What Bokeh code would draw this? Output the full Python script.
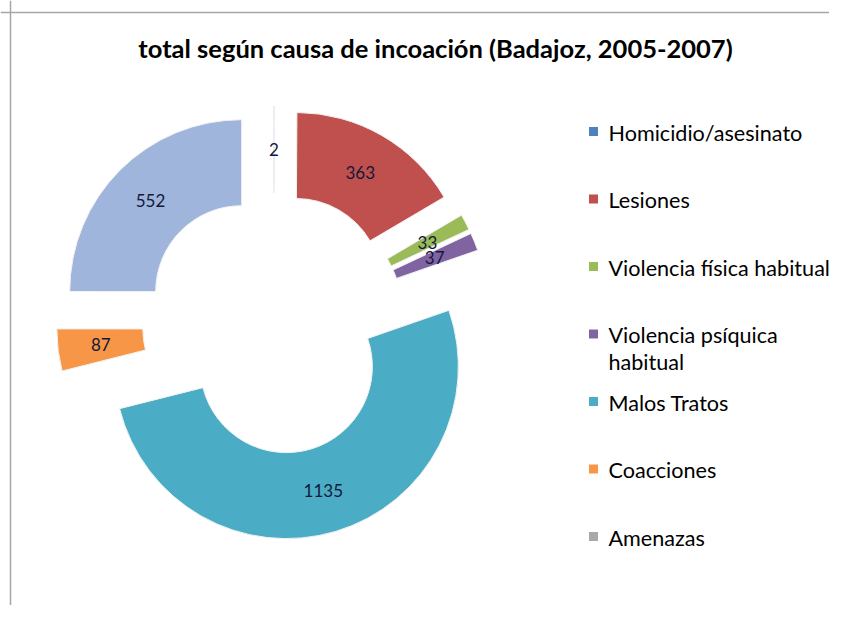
import math
from bokeh.plotting import figure
from bokeh.models import Range1d, ColumnDataSource, Span
from bokeh.embed import file_html
from bokeh.resources import INLINE
from bokeh.core.properties import value

# ---- data ----
title_text = "total según causa de incoación (Badajoz, 2005-2007)"
categories = ["Homicidio/asesinato", "Lesiones", "Violencia física habitual",
              "Violencia psíquica habitual", "Malos Tratos", "Coacciones", "Amenazas"]
legend_lines = [["Homicidio/asesinato"], ["Lesiones"], ["Violencia física habitual"],
                ["Violencia psíquica", "habitual"], ["Malos Tratos"], ["Coacciones"], ["Amenazas"]]
counts = [2, 363, 33, 37, 1135, 87, 552]
slice_colors = ["#4F81BD", "#C0504D", "#9BBB59", "#8064A2", "#4BACC6", "#F79646", "#A0B5DC"]
legend_colors = ["#4F81BD", "#C0504D", "#9BBB59", "#8064A2", "#4BACC6", "#F79646", "#A8A8A8"]

# ---- layout (screen pixel coordinates; data y = -screen y) ----
W, H = 829, 605
cx, cy = 273, -323          # donut centre
r_out, r_in = 172, 86       # radii
explode = 45                # explosion distance
FONT = "Lato"

p = figure(width=W, height=H, x_range=Range1d(0, W), y_range=Range1d(-H, 0),
           output_backend="svg", toolbar_location=None, min_border=0)
p.axis.visible = False
p.grid.visible = False
p.outline_line_color = None
p.background_fill_color = "white"
p.border_fill_color = "white"

total = float(sum(counts))
xs, ys, starts, ends, lx, ly, labels = [], [], [], [], [], [], []
cum = 0.0
for c in counts:
    t1 = cum / total * 360.0
    cum += c
    t2 = cum / total * 360.0
    tm = math.radians((t1 + t2) / 2.0)
    x0 = cx + explode * math.sin(tm)
    y0 = cy + explode * math.cos(tm)
    xs.append(x0)
    ys.append(y0)
    starts.append(math.radians(90.0 - t2))
    ends.append(math.radians(90.0 - t1))
    rm = (r_out + r_in) / 2.0
    lx.append(x0 + rm * math.sin(tm))
    ly.append(y0 + rm * math.cos(tm))
    labels.append(str(c))

src = ColumnDataSource(dict(x=xs, y=ys, start=starts, end=ends, color=slice_colors,
                            lx=lx, ly=ly, label=labels))
p.annular_wedge(x="x", y="y", inner_radius=r_in, outer_radius=r_out,
                start_angle="start", end_angle="end", direction="anticlock",
                fill_color="color", line_color="#f2f2f2", line_width=1, source=src)
p.text(x="lx", y="ly", text="label", source=src, text_align="center",
       text_baseline="middle", text_font=value(FONT), text_font_size="17px",
       text_color="#12183a")

# ---- legend (manual, to match the reference) ----
leg_x, leg_y0, leg_step, line_step = 593, -132, 67.5, 27
mx, my, mc = [], [], []
tx, ty, tt = [], [], []
for i, (lines, col) in enumerate(zip(legend_lines, legend_colors)):
    yy = leg_y0 - i * leg_step
    mx.append(leg_x)
    my.append(yy + 1)
    mc.append(col)
    for j, ln in enumerate(lines):
        tx.append(leg_x + 15)
        ty.append(yy - j * line_step)
        tt.append(ln)
p.scatter(x=mx, y=my, marker="square", size=9, fill_color=mc, line_color=None)
p.text(x=tx, y=ty, text=tt, text_align="left", text_baseline="middle",
       text_font=value(FONT), text_font_size="21.6px", text_color="#000000")

# ---- title ----
p.text(x=[435], y=[-47], text=[title_text], text_align="center", text_baseline="middle",
       text_font=value(FONT), text_font_size="25.5px", text_font_style="bold",
       text_color="#000000")

# ---- chart frame edges ----
p.add_layout(Span(location=10, dimension="height", line_color="#a6a6a6", line_width=1.5))
p.add_layout(Span(location=-12, dimension="width", line_color="#a6a6a6", line_width=1.5))

open("out.html", "w").write(file_html(p, INLINE))
